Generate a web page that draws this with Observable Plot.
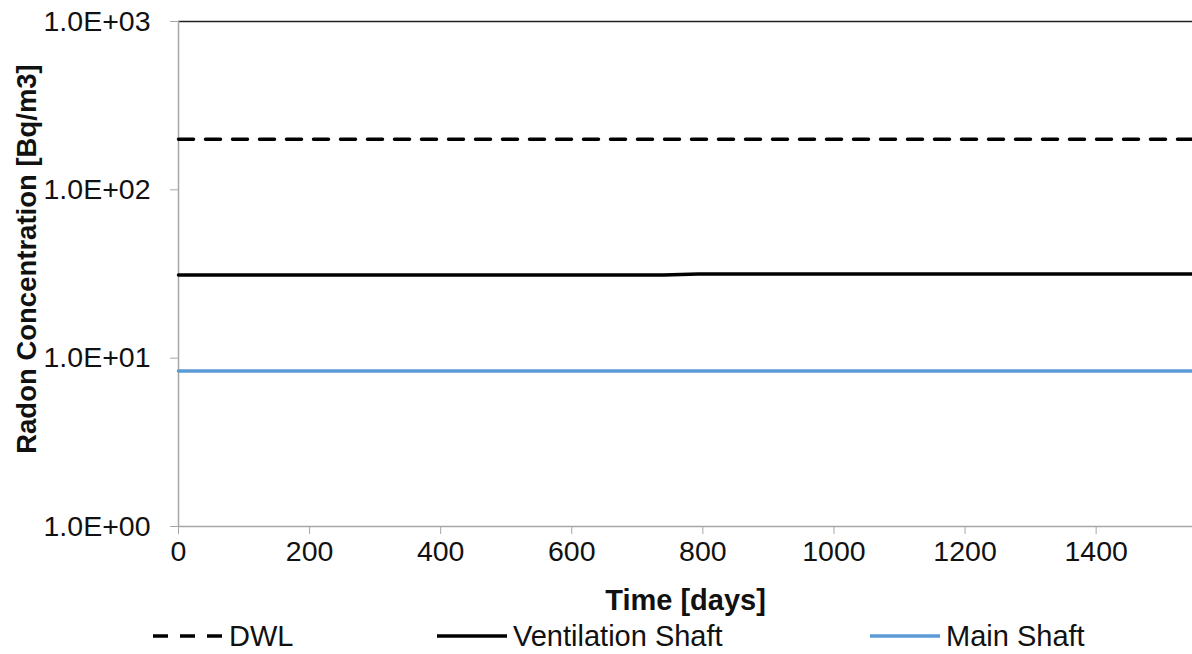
<!DOCTYPE html>
<html>
<head>
<meta charset="utf-8">
<script src="https://cdn.jsdelivr.net/npm/d3@7"></script>
<script src="https://cdn.jsdelivr.net/npm/@observablehq/plot@0.6"></script>
<style>
  body { margin: 0; background: #fff; font-family: "Liberation Sans", Arial, sans-serif; }
  #chart svg g[aria-label="y-axis label"] text { font-weight: bold; font-size: 27.5px; }
  #chart svg g[aria-label="x-axis label"] text { font-weight: bold; font-size: 29px; }
  #legend { position: relative; width: 1192px; height: 36px; font-size: 29px; color: #111; }
  .item { position: absolute; top: 0; height: 36px; display: flex; align-items: center; }
  .item svg { margin-right: 6px; }
</style>
</head>
<body>
<div id="chart"></div>
<div id="legend"></div>
<script>
// ---- data ----
const seriesNames = ["DWL", "Ventilation Shaft", "Main Shaft"];
const dwlDays = [0, 1547];
const dwlValues = [200, 200];
const ventDays = [0, 740, 793, 1547];
const ventValues = [31.2, 31.2, 31.6, 31.6];
const mainDays = [0, 1547];
const mainValues = [8.4, 8.4];
const xTicks = [0, 200, 400, 600, 800, 1000, 1200, 1400];
const yTicks = [1, 10, 100, 1000];

const toRows = (xs, ys) => xs.map((d, i) => ({day: d, value: ys[i]}));
const dwl = toRows(dwlDays, dwlValues);
const vent = toRows(ventDays, ventValues);
const main = toRows(mainDays, mainValues);

function sci(v) {
  const e = Math.round(Math.log10(v));
  const m = v / Math.pow(10, e);
  const sign = e < 0 ? "-" : "+";
  return m.toFixed(1) + "E" + sign + String(Math.abs(e)).padStart(2, "0");
}

const plot = Plot.plot({
  width: 1192,
  height: 618,
  marginLeft: 178,
  marginRight: 0,
  marginTop: 21,
  marginBottom: 92,
  style: {fontSize: "28.5px", fontFamily: "'Liberation Sans', Arial, sans-serif", color: "#111", background: "#fff"},
  x: {domain: [0, 1547]},
  y: {type: "log", domain: [1, 1000]},
  marks: [
    Plot.ruleY([1000], {stroke: "#222", strokeWidth: 1.5}),
    Plot.ruleX([0], {stroke: "#a6a6a6", strokeWidth: 1.5}),
    Plot.ruleY([1], {stroke: "#a6a6a6", strokeWidth: 1.5}),
    Plot.axisX({ticks: xTicks, tickFormat: d => String(d), tickSize: 8, tickPadding: 6, stroke: "#a6a6a6",
      label: "Time [days]", labelAnchor: "center", labelArrow: "none", labelOffset: 83}),
    Plot.axisY({ticks: yTicks, tickFormat: sci, tickSize: 8, tickPadding: 20, stroke: "#a6a6a6",
      label: "Radon Concentration [Bq/m3]", labelAnchor: "center", labelArrow: "none", labelOffset: 162}),
    Plot.line(dwl, {x: "day", y: "value", stroke: "#000", strokeWidth: 3.5, strokeDasharray: "15,12"}),
    Plot.line(vent, {x: "day", y: "value", stroke: "#000", strokeWidth: 3.5}),
    Plot.line(main, {x: "day", y: "value", stroke: "#5b9bd5", strokeWidth: 3.5})
  ]
});
document.getElementById("chart").appendChild(plot);
// nudge the rotated y title upward along its baseline
d3.select(plot).selectAll('g[aria-label="y-axis label"] text').attr("dx", 15);

// legend
const legendItems = [
  {name: seriesNames[0], color: "#000", dash: "15,12", left: 153},
  {name: seriesNames[1], color: "#000", dash: null, left: 437},
  {name: seriesNames[2], color: "#5b9bd5", dash: null, left: 870}
];
const lg = d3.select("#legend");
legendItems.forEach(it => {
  const div = lg.append("div").attr("class", "item").style("left", it.left + "px");
  const s = div.append("svg").attr("width", 70).attr("height", 10);
  s.append("line").attr("x1", 0).attr("x2", 70).attr("y1", 5).attr("y2", 5)
    .attr("stroke", it.color).attr("stroke-width", 3.5)
    .attr("stroke-dasharray", it.dash);
  div.append("span").text(it.name);
});
</script>
</body>
</html>
